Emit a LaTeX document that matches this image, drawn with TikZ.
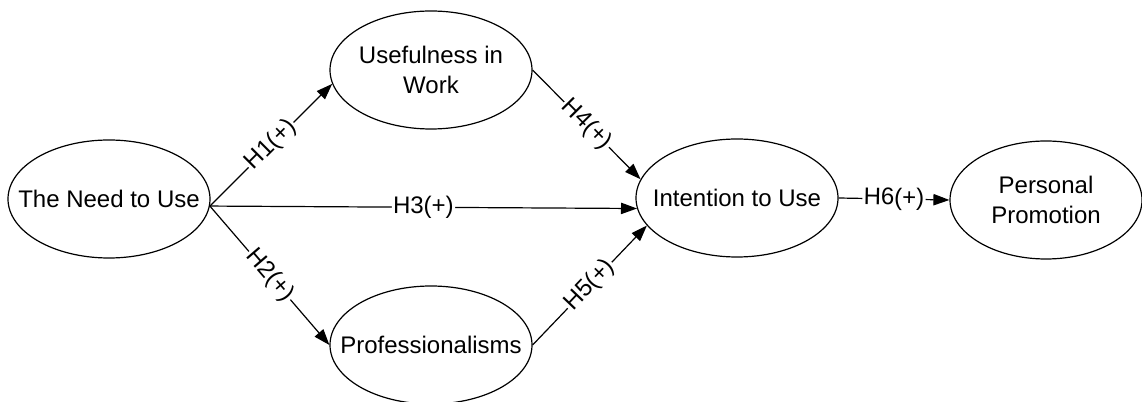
\documentclass[tikz,border=0pt]{standalone}
\usepackage{fontspec}
\setmainfont{Liberation Sans}
\usetikzlibrary{shapes.geometric,arrows.meta}
\begin{document}
\begin{tikzpicture}[x=0.75pt,y=-0.75pt,
 lv/.style={draw=black, ellipse, line width=0.9pt, minimum width=151.5pt, minimum height=88.5pt, inner sep=0pt},
 txt/.style={align=center, inner sep=0pt, font=\fontsize{18}{22.5}\selectfont},
 arr/.style={draw, line width=0.9pt, -{Triangle[length=12pt,width=8.5pt]}},
 lab/.style={sloped, fill=white, inner sep=1pt, font=\fontsize{18}{22}\selectfont}]
\useasboundingbox (0,0) rectangle (1142,402);
\node[lv, label={[txt]center:The Need to Use}] (need) at (109,199) {};
\node[lv, label={[txt]center:{Usefulness in\\Work}}] (use) at (431,70) {};
\node[lv, label={[txt]center:Professionalisms}] (prof) at (431,345) {};
\node[lv, label={[txt]center:Intention to Use}] (int) at (737,198) {};
\node[lv, minimum width=144pt, label={[txt]center:{Personal\\Promotion}}] (pers) at (1046,200) {};
\coordinate (src) at (need.356);
\draw[arr] (src) -- node[lab]{H1(+)} (use.188);
\draw[arr] (src) -- node[lab]{H3(+)} (int.186);
\draw[arr] (src) -- node[lab]{H2(+)} (prof.west);
\draw[arr] (use.east) -- node[lab]{H4(+)} (int.169);
\draw[arr] (prof.east) -- node[lab]{H5(+)} (int.197);
\draw[arr] (int.east) -- node[lab]{H6(+)} (pers.west);
\end{tikzpicture}
\end{document}
